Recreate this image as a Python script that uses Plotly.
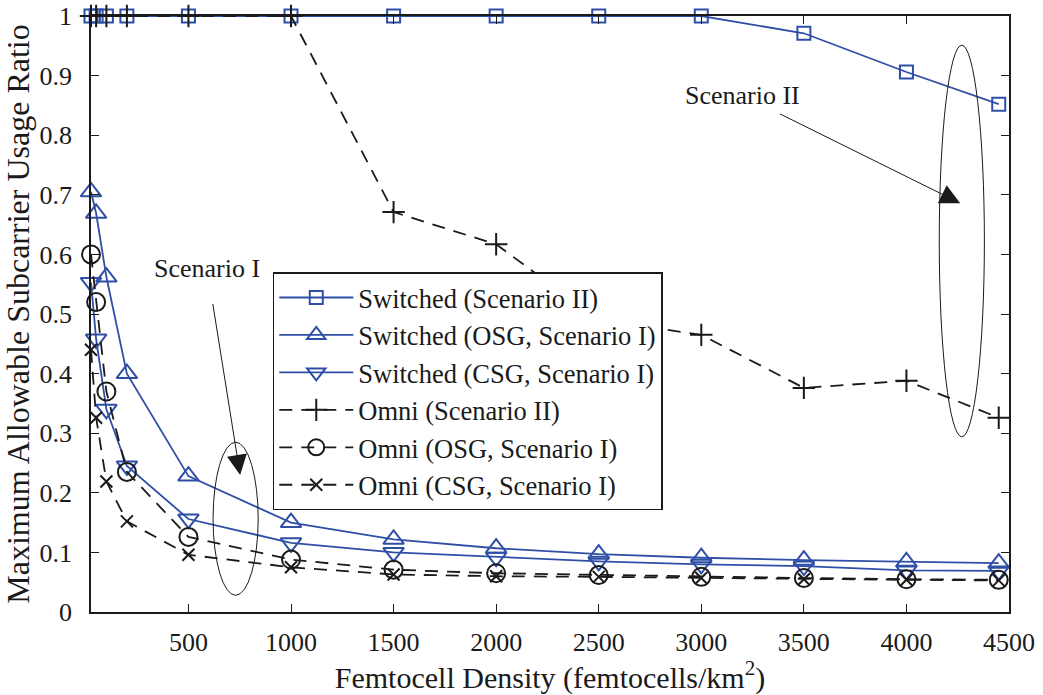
import plotly.graph_objects as go

# Femtocell density (femtocells/km^2)
density = [25, 50, 100, 200, 500, 1000, 1500, 2000, 2500, 3000, 3500, 4000, 4450]

# Maximum allowable subcarrier usage ratio per scheme
switched_s2 = [1, 1, 1, 1, 1, 1, 1, 1, 1, 1, 0.971, 0.906, 0.852]
switched_osg = [0.705, 0.669, 0.562, 0.400, 0.228, 0.150, 0.122, 0.107, 0.097, 0.091, 0.087, 0.084, 0.082]
switched_csg = [0.553, 0.458, 0.340, 0.245, 0.156, 0.116, 0.100, 0.092, 0.085, 0.080, 0.077, 0.070, 0.069]
omni_s2 = [1, 1, 1, 1, 1, 1, 0.671, 0.617, 0.490, 0.465, 0.376, 0.388, 0.326]
omni_osg = [0.600, 0.520, 0.370, 0.235, 0.126, 0.088, 0.071, 0.065, 0.062, 0.059, 0.057, 0.055, 0.054]
omni_csg = [0.440, 0.326, 0.219, 0.152, 0.096, 0.075, 0.063, 0.060, 0.059, 0.057, 0.055, 0.054, 0.053]

names = [
    "Switched (Scenario II)",
    "Switched (OSG, Scenario I)",
    "Switched (CSG, Scenario I)",
    "Omni (Scenario II)",
    "Omni (OSG, Scenario I)",
    "Omni (CSG, Scenario I)",
]

x_ticks = [500, 1000, 1500, 2000, 2500, 3000, 3500, 4000, 4500]
y_ticks = [0, 0.1, 0.2, 0.3, 0.4, 0.5, 0.6, 0.7, 0.8, 0.9, 1]
y_tick_text = ["0", "0.1", "0.2", "0.3", "0.4", "0.5", "0.6", "0.7", "0.8", "0.9", "1"]

BLUE = "#2f4fa6"
INK = "#1a1a1a"
FONT = "Liberation Serif, Times New Roman, serif"

series = [
    (switched_s2, BLUE, "solid", "square-open", 13),
    (switched_osg, BLUE, "solid", "triangle-up-open", 18),
    (switched_csg, BLUE, "solid", "triangle-down-open", 18),
    (omni_s2, INK, "13px,9px", "cross-thin-open", 16),
    (omni_osg, INK, "13px,9px", "circle-open", 18),
    (omni_csg, INK, "13px,9px", "x-thin-open", 12),
]

fig = go.Figure()
for name, (vals, color, dash, symbol, size) in zip(names, series):
    fig.add_trace(go.Scatter(
        x=density, y=vals, name=name, mode="lines+markers", cliponaxis=False,
        line=dict(color=color, width=1.8, dash=dash),
        marker=dict(symbol=symbol, size=size, color=color,
                    line=dict(color=color, width=2)),
    ))

axis_common = dict(
    showgrid=False, zeroline=False, showline=True, linecolor=INK, linewidth=1.5,
    mirror="ticks", ticks="inside", ticklen=8, tickwidth=1.2, tickcolor=INK,
    tickfont=dict(family=FONT, size=26, color=INK), automargin=False,
)

fig.update_layout(
    width=1043, height=695,
    margin=dict(l=91, r=34, t=16, b=83),
    paper_bgcolor="white", plot_bgcolor="white",
    font=dict(family=FONT, color=INK),
    showlegend=True,
    legend=dict(
        x=0.198, y=0.570, xanchor="left", yanchor="top",
        bgcolor="white", bordercolor=INK, borderwidth=1.5,
        font=dict(family=FONT, size=26.5, color=INK),
        itemwidth=74, tracegroupgap=0, entrywidth=395,
    ),
    xaxis=dict(
        range=[25, 4500], tickvals=x_ticks, ticklabelstandoff=6,
        title=dict(text="Femtocell Density (femtocells/km<sup>2</sup>)",
                   font=dict(family=FONT, size=30, color=INK), standoff=12),
        **axis_common,
    ),
    yaxis=dict(
        range=[0, 1], tickvals=y_ticks, ticktext=y_tick_text, ticklabelstandoff=12,
        title=dict(text="Maximum Allowable Subcarrier Usage Ratio",
                   font=dict(family=FONT, size=32, color=INK), standoff=6),
        **axis_common,
    ),
)

# Scenario groupings: ellipses with labelled pointing arrows
fig.add_shape(type="circle", xref="x", yref="y", x0=4160, x1=4380, y0=0.294, y1=0.951,
              line=dict(color=INK, width=1))
fig.add_shape(type="circle", xref="x", yref="y", x0=620, x1=840, y0=0.028, y1=0.285,
              line=dict(color=INK, width=1))

fig.add_annotation(x=4262, y=0.686, xref="x", yref="y", ax=3200, ay=0.867,
                   axref="x", ayref="y", text="Scenario II", showarrow=True,
                   startstandoff=6, arrowhead=2, arrowsize=4, arrowwidth=1, arrowcolor=INK,
                   font=dict(family=FONT, size=26, color=INK))

fig.add_annotation(x=752, y=0.230, xref="x", yref="y", ax=591, ay=0.577,
                   axref="x", ayref="y", text="Scenario I", showarrow=True,
                   startstandoff=20, arrowhead=2, arrowsize=4, arrowwidth=1, arrowcolor=INK,
                   font=dict(family=FONT, size=26, color=INK))

fig.write_html("out.html")
